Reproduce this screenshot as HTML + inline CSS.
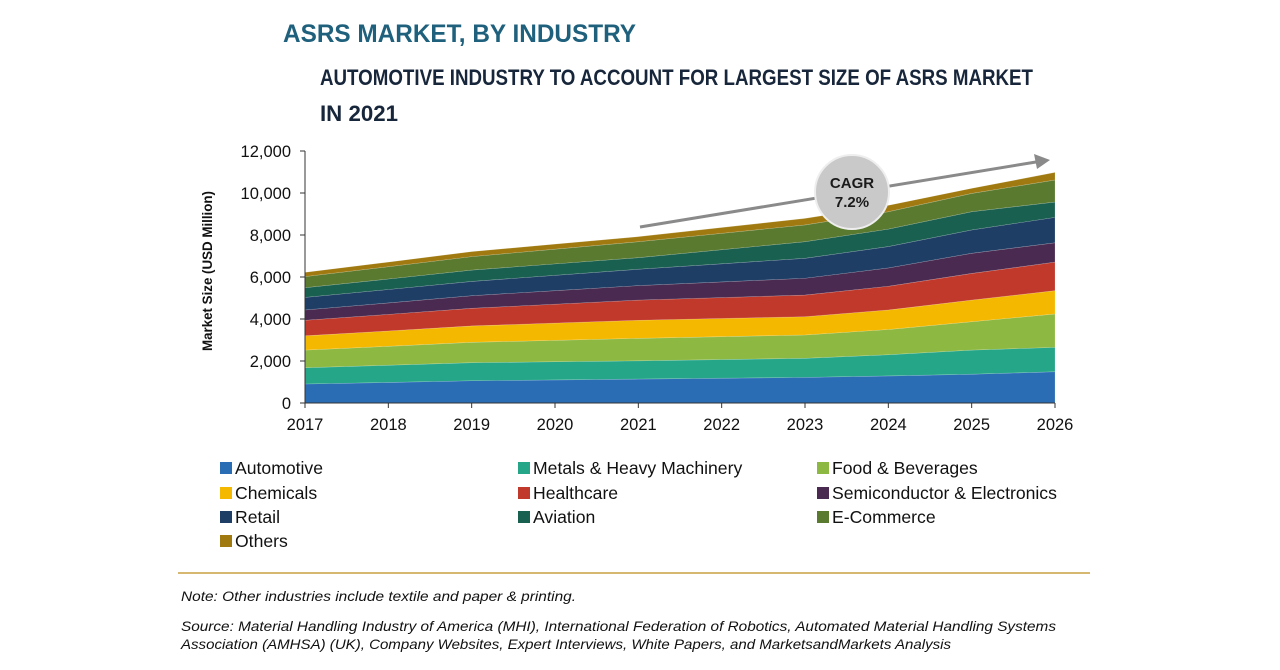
<!DOCTYPE html>
<html><head><meta charset="utf-8"><style>body{margin:0;background:#fff}svg{display:block}</style></head>
<body>
<svg id="chart" width="1280" height="670" xmlns="http://www.w3.org/2000/svg" font-family="Liberation Sans, sans-serif">
<text x="283" y="42" font-size="25" font-weight="bold" fill="#1f607c" textLength="353" lengthAdjust="spacingAndGlyphs">ASRS MARKET, BY INDUSTRY</text>
<text x="320" y="85" font-size="22" font-weight="bold" fill="#17263a" textLength="713" lengthAdjust="spacingAndGlyphs">AUTOMOTIVE INDUSTRY TO ACCOUNT FOR LARGEST SIZE OF ASRS MARKET</text>
<text x="320" y="121" font-size="22" font-weight="bold" fill="#17263a" textLength="78" lengthAdjust="spacingAndGlyphs">IN 2021</text>
<g id="plot"></g>
<g id="axes"></g>
<text transform="translate(212,271) rotate(-90)" text-anchor="middle" font-size="14" font-weight="bold" fill="#111" textLength="160" lengthAdjust="spacingAndGlyphs">Market Size (USD Million)</text>
<line x1="640" y1="227" x2="1036" y2="162" stroke="#8a8a8a" stroke-width="3"/>
<polygon points="1050,160 1034,154 1037,169" fill="#8a8a8a"/>
<circle cx="852" cy="192" r="37" fill="#c9c9c9" stroke="#eee" stroke-width="2"/>
<text x="852" y="188" text-anchor="middle" font-size="15" font-weight="bold" fill="#1a1a1a">CAGR</text>
<text x="852" y="207" text-anchor="middle" font-size="15" font-weight="bold" fill="#1a1a1a">7.2%</text>
<g id="legend"></g>
<line x1="178" y1="573" x2="1090" y2="573" stroke="#c8a040" stroke-width="1.5"/>
<text x="181" y="601" font-size="14" font-style="italic" fill="#111" textLength="395" lengthAdjust="spacingAndGlyphs">Note: Other industries include textile and paper &amp; printing.</text>
<text x="181" y="631" font-size="14" font-style="italic" fill="#111" textLength="875" lengthAdjust="spacingAndGlyphs">Source: Material Handling Industry of America (MHI), International Federation of Robotics, Automated Material Handling Systems</text>
<text x="181" y="649" font-size="14" font-style="italic" fill="#111" textLength="770" lengthAdjust="spacingAndGlyphs">Association (AMHSA) (UK), Company Websites, Expert Interviews, White Papers, and MarketsandMarkets Analysis</text>
</svg>
<script>
const years = ['2017','2018','2019','2020','2021','2022','2023','2024','2025','2026'];
const seriesNames = ['Automotive','Metals & Heavy Machinery','Food & Beverages','Chemicals','Healthcare','Semiconductor & Electronics','Retail','Aviation','E-Commerce','Others'];
const automotive = [905,980,1060,1100,1140,1180,1220,1290,1370,1490];
const metals = [775,820,860,865,870,890,910,1010,1150,1160];
const food = [840,900,970,1020,1070,1090,1110,1200,1350,1590];
const chemicals = [680,730,780,820,860,865,870,930,1030,1110];
const healthcare = [740,790,840,900,960,995,1030,1130,1270,1360];
const semiconductor = [490,545,600,645,690,745,800,870,960,920];
const retail = [600,640,680,730,780,865,950,1020,1110,1210];
const aviation = [460,500,540,545,550,670,790,830,870,730];
const ecommerce = [530,585,640,700,760,780,800,830,870,1050];
const others = [200,220,240,240,240,275,310,300,240,360];
const yTicks = [0,2000,4000,6000,8000,10000,12000];
const yTickLabels = ['0','2,000','4,000','6,000','8,000','10,000','12,000'];

const series = [automotive,metals,food,chemicals,healthcare,semiconductor,retail,aviation,ecommerce,others];
const colors = ['#2a6db5','#26a688','#8db842','#f5b800','#c0392b','#4a2a50','#1e3e66','#1a6050','#5a7a30','#a07a10'];
const slugs = ['automotive','metals','food','chemicals','healthcare','semiconductor','retail','aviation','ecommerce','others'];
const NS='http://www.w3.org/2000/svg';
const x0=305,x1=1055,yb=403,yt=151,yMax=12000;
const xS=i=>x0+(x1-x0)*i/(years.length-1);
const yS=v=>yb-(yb-yt)*v/yMax;
function mk(t,a){const e=document.createElementNS(NS,t);for(const k in a)e.setAttribute(k,a[k]);return e;}
const plot=document.getElementById('plot');
let base=years.map(()=>0);
series.forEach((s,k)=>{
  const top=base.map((b,i)=>b+s[i]);
  let d='M'+years.map((_,i)=>xS(i)+','+yS(top[i])).join(' L');
  for(let i=years.length-1;i>=0;i--)d+=' L'+xS(i)+','+yS(base[i]);
  d+='Z';
  const p=mk('path',{d:d,fill:colors[k],stroke:'rgba(255,255,255,0.25)','stroke-width':'0.6'});
  
  
  plot.appendChild(p);
  base=top;
});
const ax=document.getElementById('axes');
ax.appendChild(mk('line',{x1:x0,y1:yt,x2:x0,y2:yb,stroke:'#333','stroke-width':1}));
ax.appendChild(mk('line',{x1:x0,y1:yb,x2:x1,y2:yb,stroke:'#333','stroke-width':1}));
yTicks.forEach((v,i)=>{
  ax.appendChild(mk('line',{x1:x0-5,y1:yS(v),x2:x0,y2:yS(v),stroke:'#333'}));
  const t=mk('text',{x:x0-14,y:yS(v)+6,'text-anchor':'end','font-size':'16.5',fill:'#111'});
  t.textContent=yTickLabels[i];
  
  
  ax.appendChild(t);
});
years.forEach((y,i)=>{
  ax.appendChild(mk('line',{x1:xS(i),y1:yb,x2:xS(i),y2:yb+5,stroke:'#333'}));
  const t=mk('text',{x:xS(i),y:430,'text-anchor':'middle','font-size':'16.5',fill:'#111'});
  t.textContent=y;
  
  
  ax.appendChild(t);
});
const lg=document.getElementById('legend');
const colX=[220,518,817],rowY=[468,493,517,541];
seriesNames.forEach((n,k)=>{
  const cx=colX[k%3],cy=rowY[Math.floor(k/3)];
  const g=mk('g',{});
  
  
  g.appendChild(mk('rect',{x:cx,y:cy-6,width:12,height:12,fill:colors[k]}));
  const t=mk('text',{x:cx+15,y:cy+6,'font-size':'17.6',fill:'#111'});
  t.textContent=n;
  g.appendChild(t);
  lg.appendChild(g);
});
</script>
</body></html>
